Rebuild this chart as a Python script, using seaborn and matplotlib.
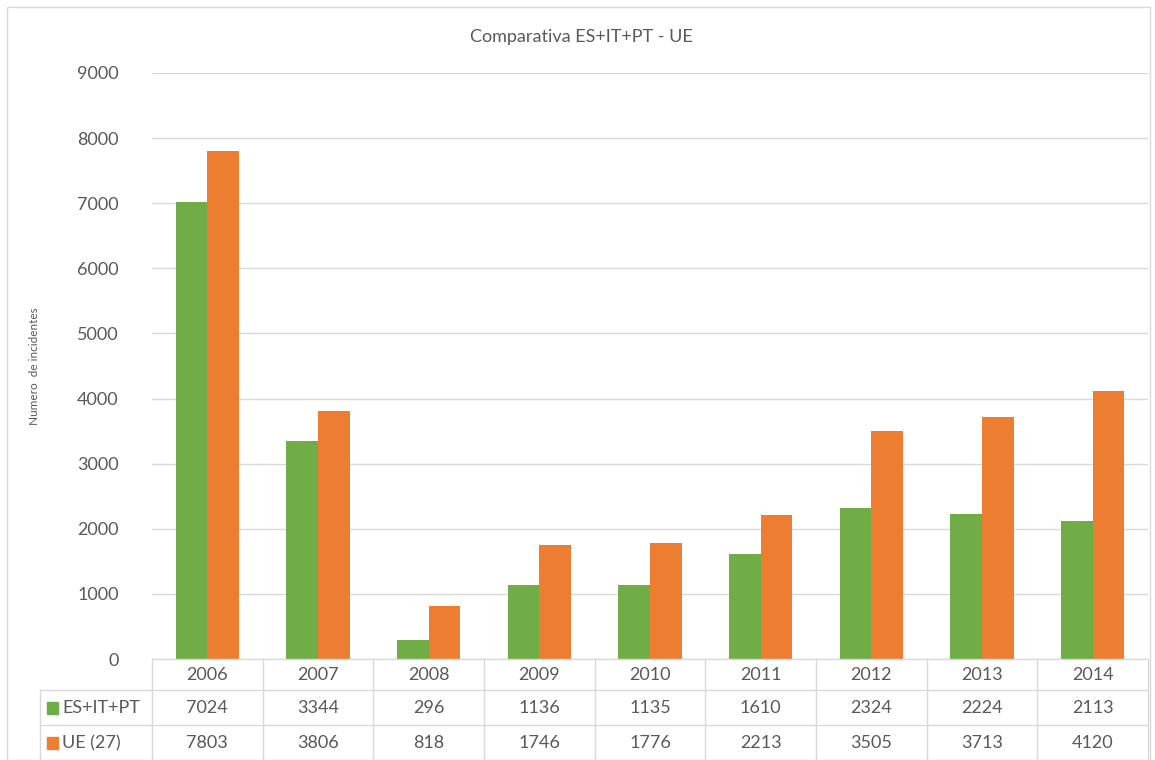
import pandas as pd
import matplotlib
matplotlib.use("Agg")
import matplotlib.pyplot as plt
import seaborn as sns

sns.set_theme(style='white')
plt.rcParams['font.family'] = ['Lato', 'DejaVu Sans']

years = ['2006', '2007', '2008', '2009', '2010', '2011', '2012', '2013', '2014']
series_names = ['ES+IT+PT', 'UE (27)']
es_it_pt = [7024, 3344, 296, 1136, 1135, 1610, 2324, 2224, 2113]
ue27 = [7803, 3806, 818, 1746, 1776, 2213, 3505, 3713, 4120]
colors = ['#70AD47', '#ED7D31']
txt = '#595959'
grid_c = '#D9D9D9'

df = pd.DataFrame({'Year': years * 2,
                   'Serie': [series_names[0]] * len(years) + [series_names[1]] * len(years),
                   'Value': es_it_pt + ue27})

W, H = 1155, 760
fig = plt.figure(figsize=(W / 100, H / 100), dpi=100)

# outer chart border
fig.patches.append(plt.Rectangle((7 / W, 0), (1150 - 7) / W, (H - 7) / H, transform=fig.transFigure,
                                 fill=False, edgecolor=grid_c, lw=1))

x0, x1 = 152, 1148
ax = fig.add_axes([x0 / W, (H - 659) / H, (x1 - x0) / W, (659 - 73) / H])
sns.barplot(data=df, x='Year', y='Value', hue='Serie', palette=colors, width=0.57, gap=0,
            saturation=1, ax=ax, legend=False, errorbar=None, linewidth=0)
ax.set_xlim(-0.5, len(years) - 0.5)
ax.set_ylim(0, 9000)
ax.set_yticks(range(0, 9001, 1000))
ax.yaxis.grid(True, color=grid_c, lw=1)
ax.set_axisbelow(True)
for s in ax.spines.values():
    s.set_visible(False)
ax.tick_params(axis='y', length=0, pad=24, labelsize=13, labelcolor=txt)
ax.set_xticks([])
ax.set_xlabel('')
ax.set_ylabel('Numero  de incidentes', fontsize=8.5, color=txt)
ax.yaxis.set_label_coords(-(x0 - 40) / (x1 - x0), 0.5)
fig.text(581 / W, 1 - 37 / H, 'Comparativa ES+IT+PT - UE', ha='center', va='center', fontsize=13, color=txt)

# data table below the plot
tab = fig.add_axes([x0 / W, 0, (x1 - x0) / W, (H - 659) / H])
tab.set_xlim(-0.5, len(years) - 0.5)
tab.set_ylim(101, 0)
tab.axis('off')
left = -0.5 - (x0 - 40) / ((x1 - x0) / len(years))
lk = dict(color=grid_c, lw=1, clip_on=False)
tab.plot([-0.5, len(years) - 0.5], [0, 0], **lk)
for yy in (31, 66):
    tab.plot([left, len(years) - 0.5], [yy, yy], **lk)
tab.plot([left, left], [31, 101], **lk)
for i in range(len(years) + 1):
    tab.plot([i - 0.5, i - 0.5], [0, 101], **lk)
for i, yr in enumerate(years):
    tab.text(i, 16, yr, ha='center', va='center', fontsize=13, color=txt)
    tab.text(i, 49, str(es_it_pt[i]), ha='center', va='center', fontsize=13, color=txt)
    tab.text(i, 84, str(ue27[i]), ha='center', va='center', fontsize=13, color=txt)
unit = (x1 - x0) / len(years)
for yy, name, c in [(49, series_names[0], colors[0]), (84, series_names[1], colors[1])]:
    tab.add_patch(plt.Rectangle((left + 7 / unit, yy - 6), 11 / unit, 12, color=c, clip_on=False))
    tab.text(left + 22 / unit, yy, name, ha='left', va='center', fontsize=13, color=txt)

fig.savefig('out.png', dpi=100)
